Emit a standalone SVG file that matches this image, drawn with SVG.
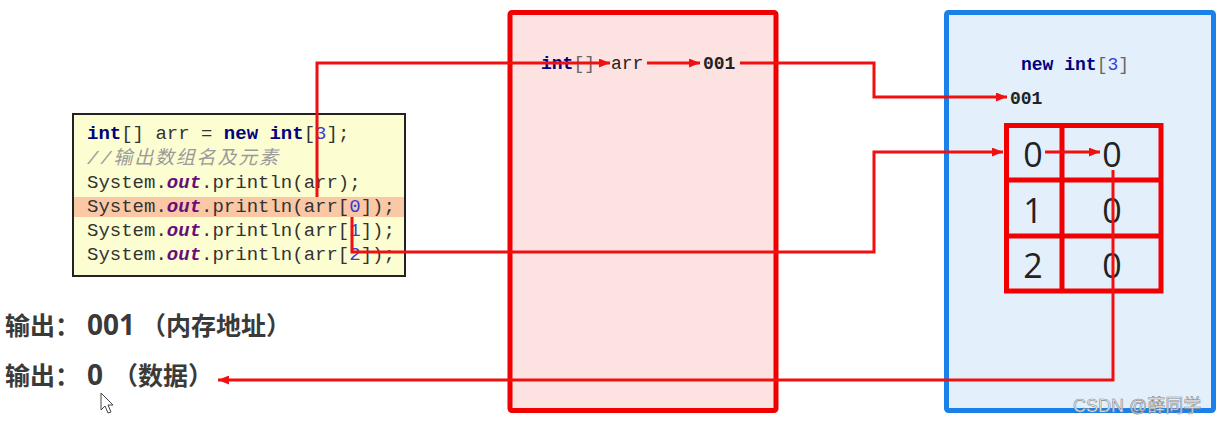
<svg xmlns="http://www.w3.org/2000/svg" width="1219" height="424" viewBox="0 0 1219 424">
<style>
.mono{font-family:"Liberation Mono","DejaVu Sans Mono","Noto Sans CJK SC",monospace;font-size:19px;fill:#333}
.kw{fill:#000080;font-weight:bold}
.out{fill:#660e7a;font-weight:bold;font-style:italic}
.num{fill:#3b3bd6}
.br{fill:#666}
.cmt{fill:#9a9a9a;font-style:italic}
.lbl{font-family:"Liberation Mono","DejaVu Sans Mono",monospace;font-size:18px;fill:#222}
.cell{font-family:"Open Sans","Liberation Sans",sans-serif;font-size:34px;fill:#222;text-anchor:middle}
.res{font-family:"Noto Sans CJK SC","Liberation Sans",sans-serif;font-size:25px;font-weight:bold;fill:#3a3a3a}
.dig{font-family:"Open Sans","Liberation Sans",sans-serif;font-size:28px}
.conn{fill:none;stroke:#f01010;stroke-width:3}
</style>
<defs>
<marker id="ah" markerWidth="11" markerHeight="9" refX="11" refY="4.5" orient="auto" markerUnits="userSpaceOnUse">
<path d="M0,0 L11,4.5 L0,9 z" fill="#f01010"/>
</marker>
</defs>
<rect width="1219" height="424" fill="#ffffff"/>

<g id="stack">
<rect x="510" y="12.5" width="266" height="398" rx="2" fill="#fde2e2" stroke="#f00000" stroke-width="5"/>
<text class="lbl" x="541" y="69"><tspan class="kw">int</tspan><tspan class="br">[]</tspan><tspan x="611">arr</tspan></text>
<text class="lbl" x="703" y="69" font-weight="bold" fill="#111">001</text>
</g>

<g id="heap">
<rect x="946.5" y="12.5" width="267" height="398" rx="2" fill="#e3f0fc" stroke="#1a80ea" stroke-width="5"/>
<text class="lbl" x="1021" y="70"><tspan class="kw">new</tspan> <tspan class="kw">int</tspan><tspan class="br">[</tspan><tspan class="num">3</tspan><tspan class="br">]</tspan></text>
<text class="lbl" x="1010" y="104" font-weight="bold" fill="#111">001</text>
</g>

<g id="grid">
<rect x="1006.5" y="125.5" width="154.5" height="165.5" fill="none" stroke="#f00000" stroke-width="5"/>
<line x1="1062" y1="125.5" x2="1062" y2="291" stroke="#f00000" stroke-width="5"/>
<line x1="1006.5" y1="180" x2="1161" y2="180" stroke="#f00000" stroke-width="5"/>
<line x1="1006.5" y1="236" x2="1161" y2="236" stroke="#f00000" stroke-width="5"/>
<text class="cell" x="1033" y="167">0</text>
<text class="cell" x="1033" y="223">1</text>
<text class="cell" x="1033" y="278">2</text>
<text class="cell" x="1112" y="167">0</text>
<text class="cell" x="1112" y="223">0</text>
<text class="cell" x="1112" y="278">0</text>
</g>

<g id="code">
<rect x="73" y="114" width="332" height="162" fill="#fdfdd2" stroke="#222" stroke-width="2"/>
<rect x="74" y="197" width="330" height="20" fill="#fbc8a5"/>
<text class="mono" x="87" y="139"><tspan class="kw">int</tspan>[] arr = <tspan class="kw">new</tspan> <tspan class="kw">int</tspan>[<tspan class="num">3</tspan>];</text>
<text class="mono cmt" x="87" y="163.5" textLength="191" lengthAdjust="spacing">//输出数组名及元素</text>
<text class="mono" x="87" y="188">System.<tspan class="out">out</tspan>.println(arr);</text>
<text class="mono" x="87" y="212">System.<tspan class="out">out</tspan>.println(arr[<tspan class="num">0</tspan>]);</text>
<text class="mono" x="87" y="236">System.<tspan class="out">out</tspan>.println(arr[<tspan class="num">1</tspan>]);</text>
<text class="mono" x="87" y="260">System.<tspan class="out">out</tspan>.println(arr[<tspan class="num">2</tspan>]);</text>
</g>

<g id="outputs">
<text class="res" y="335"><tspan x="5">输出：</tspan><tspan class="dig" x="87">001</tspan><tspan x="141">（内存地址）</tspan></text>
<text class="res" y="385"><tspan x="5">输出：</tspan><tspan class="dig" x="87">0</tspan><tspan x="113">（数据）</tspan></text>
</g>

<g id="cursor">
<path d="M101,393 L101,410 L105,406 L108,413 L111,412 L108,405 L113,405 Z" fill="#ffffff" stroke="#444" stroke-width="1"/>
</g>

<g id="connectors">
<polyline class="conn" points="317,197 317,63 610,63" marker-end="url(#ah)"/>
<line class="conn" x1="647" y1="63" x2="700" y2="63" marker-end="url(#ah)"/>
<polyline class="conn" points="740,63 874,63 874,97 1007,97" marker-end="url(#ah)"/>
<polyline class="conn" points="352,217 352,252 874,252 874,152 1003,152" marker-end="url(#ah)"/>
<line class="conn" x1="1045" y1="152" x2="1100" y2="152" marker-end="url(#ah)"/>
<polyline class="conn" points="1113,170 1113,380 218,380" marker-end="url(#ah)"/>
</g>

<text x="1073" y="412" font-family="Liberation Sans,Noto Sans CJK SC,sans-serif" font-size="18" fill="#f2f2f2" stroke="#8a8a8a" stroke-width="0.6">CSDN @薛同学</text>
</svg>
